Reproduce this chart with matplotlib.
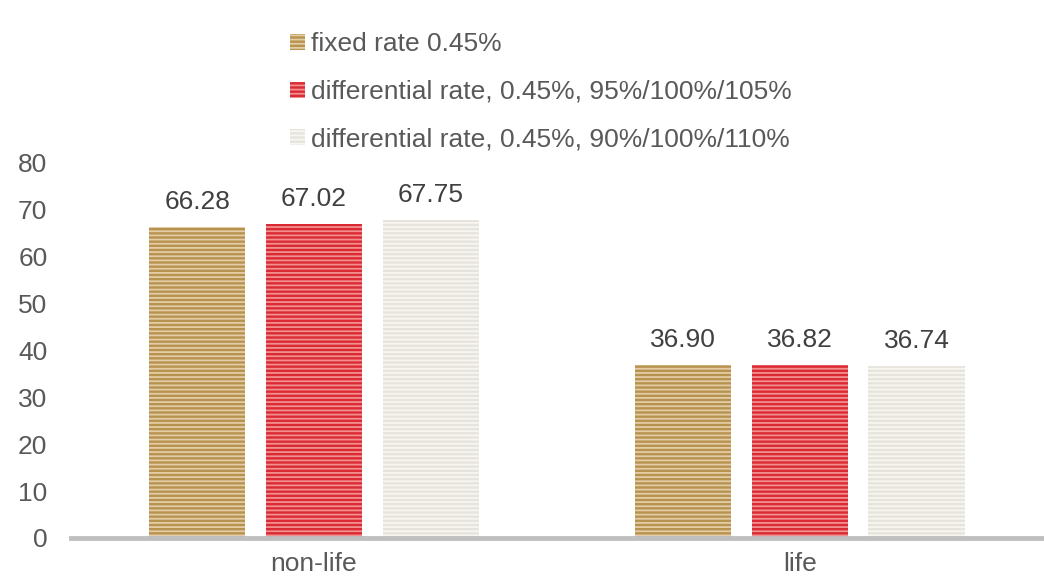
import numpy as np
import matplotlib
matplotlib.use('Agg')
import matplotlib.pyplot as plt
from matplotlib.patches import Patch

plt.rcParams['font.family'] = ['Liberation Sans', 'DejaVu Sans']
plt.rcParams['hatch.linewidth'] = 1.3

categories = ['non-life', 'life']
series = ['fixed rate 0.45%',
          'differential rate, 0.45%, 95%/100%/105%',
          'differential rate, 0.45%, 90%/100%/110%']
values = [[66.28, 36.90],
          [67.02, 36.82],
          [67.75, 36.74]]
labels = [['66.28', '36.90'],
          ['67.02', '36.82'],
          ['67.75', '36.74']]

faces = ['#B8924F', '#DA2A33', '#E6E4DC']
stripes = ['#E2CDA6', '#F29090', '#F7F6F1']

fig = plt.figure(figsize=(10.44, 5.77), dpi=100)
ax = fig.add_axes([0.068, 0.0676, 0.931, 0.65])

x = np.arange(len(categories))
w = 0.198
step = 0.24
handles = []
for i, (vals, lab) in enumerate(zip(values, labels)):
    pos = x + (i - 1) * step
    bars = ax.bar(pos, vals, w, color=faces[i], edgecolor=stripes[i],
                  linewidth=0, hatch='----')
    for b, t in zip(bars, lab):
        ax.annotate(t, (b.get_x() + b.get_width() / 2, b.get_height()),
                    xytext=(0, 9.5), textcoords='offset points',
                    ha='center', va='bottom', fontsize=19, color='#404040')
    handles.append(Patch(facecolor=faces[i], edgecolor=stripes[i],
                         linewidth=0, hatch='----', label=series[i]))

ax.set_xlim(-0.5, 1.5)
ax.set_ylim(0, 80)
ax.set_yticks(range(0, 81, 10))
ax.set_xticks(x)
ax.set_xticklabels(categories)
for s in ['top', 'right', 'left']:
    ax.spines[s].set_visible(False)
ax.spines['bottom'].set_color('#BFBFBF')
ax.spines['bottom'].set_linewidth(3.5)
ax.tick_params(length=0, labelsize=19, colors='#595959')
ax.tick_params(axis='y', pad=17)
ax.tick_params(axis='x', pad=10)

fig.legend(handles=handles, loc='upper left', bbox_to_anchor=(0.268, 0.962),
           frameon=False, fontsize=19, labelcolor='#595959',
           handlelength=0.55, handleheight=0.55, handletextpad=0.25,
           labelspacing=0.89, borderaxespad=0)

fig.savefig('out.png', dpi=100)
